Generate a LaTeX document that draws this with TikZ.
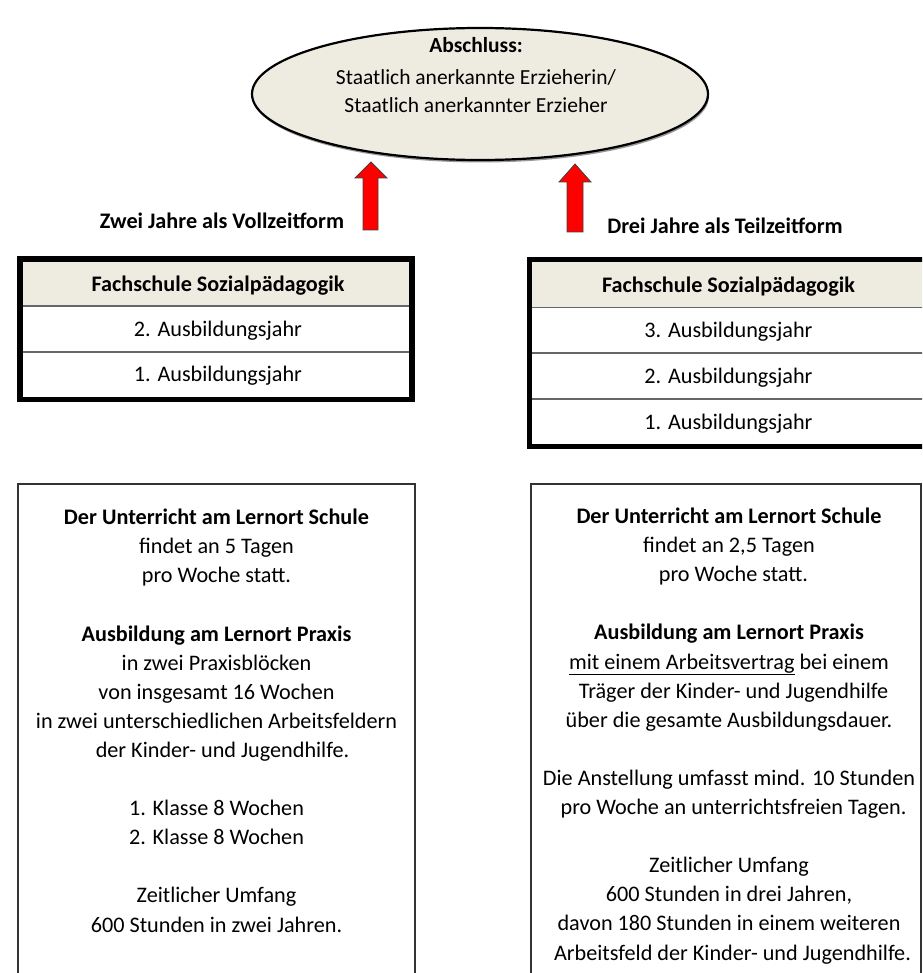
\documentclass[tikz,border=0pt]{standalone}
\usepackage{fontspec}
\setmainfont{Carlito}
\usetikzlibrary{shapes.geometric}
\definecolor{beige}{HTML}{EEECE1}
\definecolor{arrred}{HTML}{FF0000}
\begin{document}
\begin{tikzpicture}[x=1pt,y=-1pt,
  txt/.style={font=\fontsize{22.2}{29.1}\selectfont, inner sep=0pt, align=center, anchor=base},
  boldtxt/.style={txt, font=\fontsize{22.2}{29.1}\selectfont\bfseries},
  bigbox/.style={draw=black!80, line width=1.2pt},
  tableframe/.style={draw=black, line width=5.5pt},
  rowline/.style={draw=black!60, line width=1.5pt},
  redarrow/.style={fill=arrred, draw=black!75, line width=0.8pt, line join=miter}]
\useasboundingbox (0,0) rectangle (922,973);
\clip (0,0) rectangle (922,973);

% ---- goal ellipse
\fill[black!40] (481,96.5) ellipse [x radius=228, y radius=66];
\node (goal) [ellipse, draw=black, fill=beige, line width=2.2pt, minimum width=456pt, minimum height=132pt, inner sep=0pt] at (480,94) {};
\node (goaltxt) [txt, font=\fontsize{21.5}{28}\selectfont] at (476,113) {\textbf{Abschluss:}\\[4pt]Staatlich anerkannte Erzieherin/\\Staatlich anerkannter Erzieher};

% ---- block arrows
\path[redarrow] (363,230) -- (363,178) -- (355,178) -- (371,162) -- (387,178) -- (378,178) -- (378,230) -- cycle;
\path[redarrow] (567,232) -- (567,182) -- (559,182) -- (575,164) -- (591,182) -- (583,182) -- (583,232) -- cycle;
\node (lblL) [boldtxt] at (222,229) {Zwei Jahre als Vollzeitform};
\node (lblR) [boldtxt] at (725,234) {Drei Jahre als Teilzeitform};

% ---- left table
\fill[beige] (20,259) rectangle (412,306);
\draw[rowline] (20,306) -- (412,306);
\draw[rowline] (20,352) -- (412,352);
\draw[tableframe] (20,259) rectangle (412,399.5);
\node (tLh) [boldtxt] at (218,291) {Fachschule Sozialpädagogik};
\node (tL2) [txt] at (218,336) {2. Ausbildungsjahr};
\node (tL1) [txt] at (218,381) {1. Ausbildungsjahr};

% ---- right table
\fill[beige] (529.5,259.5) rectangle (930,307.5);
\draw[rowline] (529.5,307.5) -- (930,307.5);
\draw[rowline] (529.5,353) -- (930,353);
\draw[rowline] (529.5,399) -- (930,399);
\draw[tableframe] (529.5,259.5) rectangle (928,446.5);
\node (tRh) [boldtxt] at (728.5,292) {Fachschule Sozialpädagogik};
\node (tR3) [txt] at (728.5,337) {3. Ausbildungsjahr};
\node (tR2) [txt] at (728.5,383) {2. Ausbildungsjahr};
\node (tR1) [txt] at (728.5,429) {1. Ausbildungsjahr};

% ---- lower boxes
\draw[bigbox] (18,484) rectangle (415,1000);
\draw[bigbox] (531,484) rectangle (921,1000);

\node (infoL) [txt] at (216.5,932) {\textbf{Der Unterricht am Lernort Schule}\\
findet an 5 Tagen\\
pro Woche statt.\\[29.1pt]
\textbf{Ausbildung am Lernort Praxis}\\
in zwei Praxisblöcken\\
von insgesamt 16 Wochen\\
in zwei unterschiedlichen Arbeitsfeldern\\
\hspace*{12pt}der Kinder- und Jugendhilfe.\\[29.1pt]
1. Klasse 8 Wochen\\
2. Klasse 8 Wochen\\[29.1pt]
Zeitlicher Umfang\\
600 Stunden in zwei Jahren.};

\node (infoR) [txt] at (729,960) {\textbf{Der Unterricht am Lernort Schule}\\
findet an 2,5 Tagen\\
\hspace*{9pt}pro Woche statt.\\[29.1pt]
\textbf{Ausbildung am Lernort Praxis}\\
\underline{mit einem Arbeitsvertrag} bei einem\\
\hspace*{9pt}Träger der Kinder- und Jugendhilfe\\
über die gesamte Ausbildungsdauer.\\[29.1pt]
Die Anstellung umfasst mind. 10 Stunden\\
\hspace*{9pt}pro Woche an unterrichtsfreien Tagen.\\[29.1pt]
Zeitlicher Umfang\\
600 Stunden in drei Jahren,\\
davon 180 Stunden in einem weiteren\\
\hspace*{7pt}Arbeitsfeld der Kinder- und Jugendhilfe.};
\end{tikzpicture}
\end{document}
